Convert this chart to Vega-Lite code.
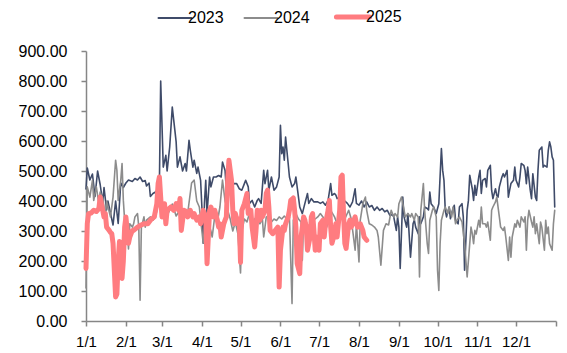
{
"$schema": "https://vega.github.io/schema/vega-lite/v6.json",
"width": 470, "height": 270,
"autosize": "none",
"padding": {"left": 86, "top": 51, "right": 11, "bottom": 32},
"background": "white",
"config": {"view": {"stroke": null}, "font": "Liberation Sans"},
"data": {"values": [
{"date":"2023-01-01","series":"2023","value":440},{"date":"2023-01-02","series":"2023","value":510},{"date":"2023-01-04","series":"2023","value":470},{"date":"2023-01-06","series":"2023","value":490},{"date":"2023-01-08","series":"2023","value":415},{"date":"2023-01-10","series":"2023","value":500},{"date":"2023-01-12","series":"2023","value":455},{"date":"2023-01-14","series":"2023","value":395},{"date":"2023-01-15","series":"2023","value":445},{"date":"2023-01-17","series":"2023","value":370},{"date":"2023-01-18","series":"2023","value":400},{"date":"2023-01-20","series":"2023","value":360},{"date":"2023-01-22","series":"2023","value":320},{"date":"2023-01-24","series":"2023","value":400},{"date":"2023-01-26","series":"2023","value":325},{"date":"2023-01-28","series":"2023","value":460},{"date":"2023-01-30","series":"2023","value":445},
{"date":"2023-02-01","series":"2023","value":460},{"date":"2023-02-03","series":"2023","value":470},{"date":"2023-02-06","series":"2023","value":465},{"date":"2023-02-08","series":"2023","value":475},{"date":"2023-02-10","series":"2023","value":470},{"date":"2023-02-12","series":"2023","value":480},{"date":"2023-02-14","series":"2023","value":465},{"date":"2023-02-16","series":"2023","value":468},{"date":"2023-02-17","series":"2023","value":450},{"date":"2023-02-19","series":"2023","value":460},{"date":"2023-02-20","series":"2023","value":415},{"date":"2023-02-22","series":"2023","value":425},{"date":"2023-02-24","series":"2023","value":430},{"date":"2023-02-26","series":"2023","value":440},{"date":"2023-02-27","series":"2023","value":455},{"date":"2023-02-28","series":"2023","value":800},
{"date":"2023-03-02","series":"2023","value":513},{"date":"2023-03-04","series":"2023","value":552},{"date":"2023-03-05","series":"2023","value":500},{"date":"2023-03-07","series":"2023","value":580},{"date":"2023-03-09","series":"2023","value":713},{"date":"2023-03-11","series":"2023","value":636},{"date":"2023-03-12","series":"2023","value":597},{"date":"2023-03-13","series":"2023","value":513},{"date":"2023-03-15","series":"2023","value":547},{"date":"2023-03-17","series":"2023","value":500},{"date":"2023-03-19","series":"2023","value":525},{"date":"2023-03-20","series":"2023","value":500},{"date":"2023-03-22","series":"2023","value":602},{"date":"2023-03-23","series":"2023","value":569},{"date":"2023-03-25","series":"2023","value":513},{"date":"2023-03-26","series":"2023","value":536},{"date":"2023-03-28","series":"2023","value":492},{"date":"2023-03-29","series":"2023","value":513},{"date":"2023-03-31","series":"2023","value":469},
{"date":"2023-04-01","series":"2023","value":380},{"date":"2023-04-02","series":"2023","value":259},{"date":"2023-04-03","series":"2023","value":393},{"date":"2023-04-04","series":"2023","value":469},{"date":"2023-04-05","series":"2023","value":358},{"date":"2023-04-07","series":"2023","value":480},{"date":"2023-04-08","series":"2023","value":447},{"date":"2023-04-10","series":"2023","value":480},{"date":"2023-04-12","series":"2023","value":480},{"date":"2023-04-14","series":"2023","value":485},{"date":"2023-04-16","series":"2023","value":480},{"date":"2023-04-17","series":"2023","value":530},{"date":"2023-04-19","series":"2023","value":502},{"date":"2023-04-20","series":"2023","value":436},{"date":"2023-04-21","series":"2023","value":469},{"date":"2023-04-24","series":"2023","value":447},{"date":"2023-04-26","series":"2023","value":458},{"date":"2023-04-28","series":"2023","value":458},{"date":"2023-04-30","series":"2023","value":441},
{"date":"2023-05-02","series":"2023","value":436},{"date":"2023-05-04","series":"2023","value":458},{"date":"2023-05-05","series":"2023","value":469},{"date":"2023-05-07","series":"2023","value":447},{"date":"2023-05-08","series":"2023","value":392},{"date":"2023-05-10","series":"2023","value":402},{"date":"2023-05-12","series":"2023","value":380},{"date":"2023-05-14","series":"2023","value":402},{"date":"2023-05-15","series":"2023","value":408},{"date":"2023-05-17","series":"2023","value":392},{"date":"2023-05-19","series":"2023","value":502},{"date":"2023-05-20","series":"2023","value":458},{"date":"2023-05-22","series":"2023","value":502},{"date":"2023-05-23","series":"2023","value":436},{"date":"2023-05-25","series":"2023","value":480},{"date":"2023-05-27","series":"2023","value":436},{"date":"2023-05-29","series":"2023","value":447},{"date":"2023-05-31","series":"2023","value":480},
{"date":"2023-06-01","series":"2023","value":652},{"date":"2023-06-02","series":"2023","value":558},{"date":"2023-06-03","series":"2023","value":580},{"date":"2023-06-04","series":"2023","value":536},{"date":"2023-06-05","series":"2023","value":613},{"date":"2023-06-07","series":"2023","value":525},{"date":"2023-06-08","series":"2023","value":480},{"date":"2023-06-10","series":"2023","value":447},{"date":"2023-06-12","series":"2023","value":458},{"date":"2023-06-13","series":"2023","value":480},{"date":"2023-06-15","series":"2023","value":413},{"date":"2023-06-16","series":"2023","value":380},{"date":"2023-06-18","series":"2023","value":358},{"date":"2023-06-20","series":"2023","value":392},{"date":"2023-06-22","series":"2023","value":425},{"date":"2023-06-23","series":"2023","value":392},{"date":"2023-06-25","series":"2023","value":408},{"date":"2023-06-27","series":"2023","value":397},{"date":"2023-06-30","series":"2023","value":397},
{"date":"2023-07-02","series":"2023","value":392},{"date":"2023-07-04","series":"2023","value":397},{"date":"2023-07-06","series":"2023","value":386},{"date":"2023-07-08","series":"2023","value":402},{"date":"2023-07-10","series":"2023","value":458},{"date":"2023-07-11","series":"2023","value":419},{"date":"2023-07-13","series":"2023","value":425},{"date":"2023-07-14","series":"2023","value":420},{"date":"2023-07-15","series":"2023","value":408},{"date":"2023-07-17","series":"2023","value":413},{"date":"2023-07-18","series":"2023","value":397},{"date":"2023-07-21","series":"2023","value":400},{"date":"2023-07-23","series":"2023","value":392},{"date":"2023-07-25","series":"2023","value":380},{"date":"2023-07-27","series":"2023","value":397},{"date":"2023-07-29","series":"2023","value":441},{"date":"2023-07-30","series":"2023","value":392},
{"date":"2023-08-01","series":"2023","value":386},{"date":"2023-08-03","series":"2023","value":400},{"date":"2023-08-05","series":"2023","value":380},{"date":"2023-08-07","series":"2023","value":397},{"date":"2023-08-09","series":"2023","value":380},{"date":"2023-08-11","series":"2023","value":385},{"date":"2023-08-13","series":"2023","value":369},{"date":"2023-08-15","series":"2023","value":380},{"date":"2023-08-17","series":"2023","value":369},{"date":"2023-08-19","series":"2023","value":375},{"date":"2023-08-21","series":"2023","value":364},{"date":"2023-08-23","series":"2023","value":369},{"date":"2023-08-25","series":"2023","value":352},{"date":"2023-08-27","series":"2023","value":355},{"date":"2023-08-28","series":"2023","value":347},{"date":"2023-08-30","series":"2023","value":302},{"date":"2023-08-31","series":"2023","value":347},
{"date":"2023-09-01","series":"2023","value":313},{"date":"2023-09-02","series":"2023","value":175},{"date":"2023-09-04","series":"2023","value":413},{"date":"2023-09-05","series":"2023","value":347},{"date":"2023-09-07","series":"2023","value":313},{"date":"2023-09-08","series":"2023","value":358},{"date":"2023-09-10","series":"2023","value":213},{"date":"2023-09-12","series":"2023","value":324},{"date":"2023-09-13","series":"2023","value":336},{"date":"2023-09-14","series":"2023","value":313},{"date":"2023-09-16","series":"2023","value":291},{"date":"2023-09-17","series":"2023","value":347},{"date":"2023-09-18","series":"2023","value":324},{"date":"2023-09-20","series":"2023","value":347},{"date":"2023-09-21","series":"2023","value":380},{"date":"2023-09-23","series":"2023","value":375},{"date":"2023-09-24","series":"2023","value":370},{"date":"2023-09-25","series":"2023","value":430},{"date":"2023-09-26","series":"2023","value":391},{"date":"2023-09-28","series":"2023","value":380},{"date":"2023-09-30","series":"2023","value":358},
{"date":"2023-10-01","series":"2023","value":375},{"date":"2023-10-02","series":"2023","value":391},{"date":"2023-10-04","series":"2023","value":575},{"date":"2023-10-05","series":"2023","value":502},{"date":"2023-10-06","series":"2023","value":469},{"date":"2023-10-07","series":"2023","value":369},{"date":"2023-10-08","series":"2023","value":347},{"date":"2023-10-10","series":"2023","value":380},{"date":"2023-10-11","series":"2023","value":341},{"date":"2023-10-12","series":"2023","value":360},{"date":"2023-10-14","series":"2023","value":386},{"date":"2023-10-15","series":"2023","value":336},{"date":"2023-10-17","series":"2023","value":324},{"date":"2023-10-18","series":"2023","value":380},{"date":"2023-10-20","series":"2023","value":391},{"date":"2023-10-21","series":"2023","value":347},{"date":"2023-10-22","series":"2023","value":169},{"date":"2023-10-24","series":"2023","value":369},{"date":"2023-10-25","series":"2023","value":402},{"date":"2023-10-26","series":"2023","value":486},{"date":"2023-10-28","series":"2023","value":440},{"date":"2023-10-29","series":"2023","value":402},{"date":"2023-10-30","series":"2023","value":452},{"date":"2023-10-31","series":"2023","value":419},
{"date":"2023-11-02","series":"2023","value":480},{"date":"2023-11-03","series":"2023","value":502},{"date":"2023-11-04","series":"2023","value":425},{"date":"2023-11-05","series":"2023","value":469},{"date":"2023-11-07","series":"2023","value":475},{"date":"2023-11-08","series":"2023","value":447},{"date":"2023-11-09","series":"2023","value":502},{"date":"2023-11-11","series":"2023","value":519},{"date":"2023-11-12","series":"2023","value":436},{"date":"2023-11-13","series":"2023","value":408},{"date":"2023-11-15","series":"2023","value":441},{"date":"2023-11-16","series":"2023","value":419},{"date":"2023-11-17","series":"2023","value":413},{"date":"2023-11-18","series":"2023","value":447},{"date":"2023-11-20","series":"2023","value":480},{"date":"2023-11-21","series":"2023","value":491},{"date":"2023-11-22","series":"2023","value":480},{"date":"2023-11-24","series":"2023","value":502},{"date":"2023-11-25","series":"2023","value":413},{"date":"2023-11-26","series":"2023","value":436},{"date":"2023-11-27","series":"2023","value":458},{"date":"2023-11-29","series":"2023","value":469},{"date":"2023-11-30","series":"2023","value":513},
{"date":"2023-12-01","series":"2023","value":469},{"date":"2023-12-03","series":"2023","value":447},{"date":"2023-12-04","series":"2023","value":480},{"date":"2023-12-05","series":"2023","value":525},{"date":"2023-12-07","series":"2023","value":519},{"date":"2023-12-08","series":"2023","value":502},{"date":"2023-12-09","series":"2023","value":458},{"date":"2023-12-10","series":"2023","value":513},{"date":"2023-12-12","series":"2023","value":436},{"date":"2023-12-13","series":"2023","value":408},{"date":"2023-12-14","series":"2023","value":491},{"date":"2023-12-16","series":"2023","value":413},{"date":"2023-12-17","series":"2023","value":402},{"date":"2023-12-18","series":"2023","value":502},{"date":"2023-12-19","series":"2023","value":569},{"date":"2023-12-21","series":"2023","value":580},{"date":"2023-12-22","series":"2023","value":513},{"date":"2023-12-23","series":"2023","value":519},{"date":"2023-12-25","series":"2023","value":513},{"date":"2023-12-26","series":"2023","value":569},{"date":"2023-12-27","series":"2023","value":597},{"date":"2023-12-28","series":"2023","value":580},{"date":"2023-12-29","series":"2023","value":547},{"date":"2023-12-30","series":"2023","value":536},{"date":"2023-12-31","series":"2023","value":380},

{"date":"2023-01-01","series":"2024","value":110},{"date":"2023-01-02","series":"2024","value":447},{"date":"2023-01-04","series":"2024","value":413},{"date":"2023-01-06","series":"2024","value":469},{"date":"2023-01-07","series":"2024","value":402},{"date":"2023-01-09","series":"2024","value":447},{"date":"2023-01-11","series":"2024","value":391},{"date":"2023-01-12","series":"2024","value":430},{"date":"2023-01-14","series":"2024","value":410},{"date":"2023-01-16","series":"2024","value":347},{"date":"2023-01-17","series":"2024","value":400},{"date":"2023-01-20","series":"2024","value":347},{"date":"2023-01-22","series":"2024","value":413},{"date":"2023-01-24","series":"2024","value":536},{"date":"2023-01-25","series":"2024","value":502},{"date":"2023-01-26","series":"2024","value":402},{"date":"2023-01-28","series":"2024","value":469},{"date":"2023-01-29","series":"2024","value":525},{"date":"2023-01-30","series":"2024","value":402},{"date":"2023-01-31","series":"2024","value":336},
{"date":"2023-02-02","series":"2024","value":313},{"date":"2023-02-03","series":"2024","value":240},{"date":"2023-02-04","series":"2024","value":324},{"date":"2023-02-06","series":"2024","value":313},{"date":"2023-02-07","series":"2024","value":324},{"date":"2023-02-08","series":"2024","value":347},{"date":"2023-02-10","series":"2024","value":358},{"date":"2023-02-11","series":"2024","value":313},{"date":"2023-02-12","series":"2024","value":69},{"date":"2023-02-13","series":"2024","value":313},{"date":"2023-02-15","series":"2024","value":347},{"date":"2023-02-16","series":"2024","value":313},{"date":"2023-02-17","series":"2024","value":336},{"date":"2023-02-20","series":"2024","value":347},{"date":"2023-02-22","series":"2024","value":336},{"date":"2023-02-24","series":"2024","value":347},{"date":"2023-02-26","series":"2024","value":391},{"date":"2023-02-27","series":"2024","value":402},{"date":"2023-02-28","series":"2024","value":380},
{"date":"2023-03-03","series":"2024","value":370},{"date":"2023-03-06","series":"2024","value":360},{"date":"2023-03-09","series":"2024","value":390},{"date":"2023-03-12","series":"2024","value":350},{"date":"2023-03-15","series":"2024","value":370},{"date":"2023-03-18","series":"2024","value":345},{"date":"2023-03-21","series":"2024","value":360},{"date":"2023-03-24","series":"2024","value":460},{"date":"2023-03-26","series":"2024","value":470},{"date":"2023-03-28","series":"2024","value":400},{"date":"2023-03-30","series":"2024","value":380},
{"date":"2023-04-01","series":"2024","value":300},{"date":"2023-04-02","series":"2024","value":260},{"date":"2023-04-04","series":"2024","value":360},{"date":"2023-04-06","series":"2024","value":330},{"date":"2023-04-08","series":"2024","value":300},{"date":"2023-04-09","series":"2024","value":280},{"date":"2023-04-11","series":"2024","value":350},{"date":"2023-04-13","series":"2024","value":330},{"date":"2023-04-15","series":"2024","value":380},{"date":"2023-04-17","series":"2024","value":470},{"date":"2023-04-19","series":"2024","value":400},{"date":"2023-04-21","series":"2024","value":370},{"date":"2023-04-23","series":"2024","value":340},{"date":"2023-04-25","series":"2024","value":300},{"date":"2023-04-27","series":"2024","value":330},{"date":"2023-04-29","series":"2024","value":290},
{"date":"2023-05-01","series":"2024","value":160},{"date":"2023-05-02","series":"2024","value":300},{"date":"2023-05-04","series":"2024","value":340},{"date":"2023-05-06","series":"2024","value":330},{"date":"2023-05-08","series":"2024","value":360},{"date":"2023-05-10","series":"2024","value":320},{"date":"2023-05-12","series":"2024","value":340},{"date":"2023-05-14","series":"2024","value":350},{"date":"2023-05-16","series":"2024","value":324},{"date":"2023-05-18","series":"2024","value":340},{"date":"2023-05-19","series":"2024","value":280},{"date":"2023-05-21","series":"2024","value":347},{"date":"2023-05-23","series":"2024","value":350},{"date":"2023-05-25","series":"2024","value":330},{"date":"2023-05-27","series":"2024","value":340},{"date":"2023-05-29","series":"2024","value":335},{"date":"2023-05-31","series":"2024","value":347},
{"date":"2023-06-02","series":"2024","value":340},{"date":"2023-06-04","series":"2024","value":350},{"date":"2023-06-06","series":"2024","value":340},{"date":"2023-06-08","series":"2024","value":347},{"date":"2023-06-10","series":"2024","value":58},{"date":"2023-06-11","series":"2024","value":336},{"date":"2023-06-13","series":"2024","value":358},{"date":"2023-06-15","series":"2024","value":340},{"date":"2023-06-17","series":"2024","value":330},{"date":"2023-06-18","series":"2024","value":202},{"date":"2023-06-19","series":"2024","value":347},{"date":"2023-06-21","series":"2024","value":330},{"date":"2023-06-23","series":"2024","value":313},{"date":"2023-06-25","series":"2024","value":336},{"date":"2023-06-28","series":"2024","value":340},{"date":"2023-06-30","series":"2024","value":347},
{"date":"2023-07-02","series":"2024","value":358},{"date":"2023-07-04","series":"2024","value":347},{"date":"2023-07-07","series":"2024","value":313},{"date":"2023-07-10","series":"2024","value":369},{"date":"2023-07-13","series":"2024","value":347},{"date":"2023-07-15","series":"2024","value":324},{"date":"2023-07-19","series":"2024","value":358},{"date":"2023-07-21","series":"2024","value":340},{"date":"2023-07-24","series":"2024","value":369},{"date":"2023-07-26","series":"2024","value":340},{"date":"2023-07-29","series":"2024","value":236},{"date":"2023-07-30","series":"2024","value":324},
{"date":"2023-08-01","series":"2024","value":197},{"date":"2023-08-02","series":"2024","value":336},{"date":"2023-08-04","series":"2024","value":391},{"date":"2023-08-06","series":"2024","value":413},{"date":"2023-08-07","series":"2024","value":369},{"date":"2023-08-09","series":"2024","value":324},{"date":"2023-08-11","series":"2024","value":320},{"date":"2023-08-13","series":"2024","value":313},{"date":"2023-08-15","series":"2024","value":302},{"date":"2023-08-16","series":"2024","value":280},{"date":"2023-08-18","series":"2024","value":186},{"date":"2023-08-20","series":"2024","value":302},{"date":"2023-08-22","series":"2024","value":324},{"date":"2023-08-24","series":"2024","value":320},{"date":"2023-08-26","series":"2024","value":369},{"date":"2023-08-28","series":"2024","value":347},{"date":"2023-08-29","series":"2024","value":358},{"date":"2023-08-31","series":"2024","value":347},
{"date":"2023-09-01","series":"2024","value":391},{"date":"2023-09-03","series":"2024","value":413},{"date":"2023-09-04","series":"2024","value":391},{"date":"2023-09-06","series":"2024","value":347},{"date":"2023-09-08","series":"2024","value":358},{"date":"2023-09-10","series":"2024","value":347},{"date":"2023-09-11","series":"2024","value":358},{"date":"2023-09-13","series":"2024","value":336},{"date":"2023-09-14","series":"2024","value":358},{"date":"2023-09-16","series":"2024","value":347},{"date":"2023-09-17","series":"2024","value":147},{"date":"2023-09-18","series":"2024","value":369},{"date":"2023-09-20","series":"2024","value":458},{"date":"2023-09-21","series":"2024","value":369},{"date":"2023-09-23","series":"2024","value":258},{"date":"2023-09-24","series":"2024","value":225},{"date":"2023-09-25","series":"2024","value":336},{"date":"2023-09-27","series":"2024","value":369},{"date":"2023-09-28","series":"2024","value":380},{"date":"2023-09-30","series":"2024","value":347},
{"date":"2023-10-01","series":"2024","value":169},{"date":"2023-10-02","series":"2024","value":102},{"date":"2023-10-03","series":"2024","value":258},{"date":"2023-10-04","series":"2024","value":336},{"date":"2023-10-06","series":"2024","value":369},{"date":"2023-10-07","series":"2024","value":380},{"date":"2023-10-09","series":"2024","value":358},{"date":"2023-10-10","series":"2024","value":380},{"date":"2023-10-12","series":"2024","value":347},{"date":"2023-10-13","series":"2024","value":380},{"date":"2023-10-15","series":"2024","value":324},{"date":"2023-10-16","series":"2024","value":336},{"date":"2023-10-18","series":"2024","value":347},{"date":"2023-10-20","series":"2024","value":330},{"date":"2023-10-22","series":"2024","value":258},{"date":"2023-10-24","series":"2024","value":147},{"date":"2023-10-26","series":"2024","value":258},{"date":"2023-10-27","series":"2024","value":313},{"date":"2023-10-28","series":"2024","value":291},{"date":"2023-10-29","series":"2024","value":258},{"date":"2023-10-30","series":"2024","value":302},{"date":"2023-10-31","series":"2024","value":290},
{"date":"2023-11-02","series":"2024","value":336},{"date":"2023-11-03","series":"2024","value":313},{"date":"2023-11-04","series":"2024","value":380},{"date":"2023-11-05","series":"2024","value":324},{"date":"2023-11-07","series":"2024","value":324},{"date":"2023-11-08","series":"2024","value":313},{"date":"2023-11-09","series":"2024","value":330},{"date":"2023-11-11","series":"2024","value":269},{"date":"2023-11-12","series":"2024","value":369},{"date":"2023-11-13","series":"2024","value":380},{"date":"2023-11-15","series":"2024","value":397},{"date":"2023-11-16","series":"2024","value":413},{"date":"2023-11-18","series":"2024","value":347},{"date":"2023-11-19","series":"2024","value":313},{"date":"2023-11-21","series":"2024","value":302},{"date":"2023-11-22","series":"2024","value":313},{"date":"2023-11-23","series":"2024","value":280},{"date":"2023-11-25","series":"2024","value":202},{"date":"2023-11-26","series":"2024","value":280},{"date":"2023-11-27","series":"2024","value":213},{"date":"2023-11-28","series":"2024","value":280},{"date":"2023-11-30","series":"2024","value":324},
{"date":"2023-12-01","series":"2024","value":313},{"date":"2023-12-02","series":"2024","value":336},{"date":"2023-12-04","series":"2024","value":313},{"date":"2023-12-05","series":"2024","value":347},{"date":"2023-12-07","series":"2024","value":330},{"date":"2023-12-08","series":"2024","value":347},{"date":"2023-12-09","series":"2024","value":236},{"date":"2023-12-10","series":"2024","value":336},{"date":"2023-12-11","series":"2024","value":369},{"date":"2023-12-13","series":"2024","value":330},{"date":"2023-12-14","series":"2024","value":313},{"date":"2023-12-15","series":"2024","value":347},{"date":"2023-12-16","series":"2024","value":291},{"date":"2023-12-17","series":"2024","value":324},{"date":"2023-12-19","series":"2024","value":258},{"date":"2023-12-20","series":"2024","value":330},{"date":"2023-12-21","series":"2024","value":313},{"date":"2023-12-23","series":"2024","value":236},{"date":"2023-12-24","series":"2024","value":336},{"date":"2023-12-25","series":"2024","value":291},{"date":"2023-12-26","series":"2024","value":313},{"date":"2023-12-27","series":"2024","value":258},{"date":"2023-12-29","series":"2024","value":236},{"date":"2023-12-30","series":"2024","value":324},{"date":"2023-12-31","series":"2024","value":369},

{"date":"2023-01-01","series":"2025","value":175},{"date":"2023-01-02","series":"2025","value":325},{"date":"2023-01-03","series":"2025","value":358},{"date":"2023-01-05","series":"2025","value":360},{"date":"2023-01-07","series":"2025","value":369},{"date":"2023-01-09","series":"2025","value":365},{"date":"2023-01-11","series":"2025","value":375},{"date":"2023-01-12","series":"2025","value":413},{"date":"2023-01-13","series":"2025","value":391},{"date":"2023-01-15","series":"2025","value":347},{"date":"2023-01-16","series":"2025","value":358},{"date":"2023-01-17","series":"2025","value":313},{"date":"2023-01-19","series":"2025","value":302},{"date":"2023-01-20","series":"2025","value":295},{"date":"2023-01-21","series":"2025","value":291},{"date":"2023-01-22","series":"2025","value":259},{"date":"2023-01-23","series":"2025","value":169},{"date":"2023-01-24","series":"2025","value":80},{"date":"2023-01-25","series":"2025","value":90},{"date":"2023-01-26","series":"2025","value":200},{"date":"2023-01-27","series":"2025","value":265},{"date":"2023-01-28","series":"2025","value":200},{"date":"2023-01-29","series":"2025","value":142},{"date":"2023-01-30","series":"2025","value":200},{"date":"2023-01-31","series":"2025","value":313},
{"date":"2023-02-01","series":"2025","value":347},{"date":"2023-02-02","series":"2025","value":302},{"date":"2023-02-03","series":"2025","value":259},{"date":"2023-02-04","series":"2025","value":280},{"date":"2023-02-06","series":"2025","value":302},{"date":"2023-02-07","series":"2025","value":302},{"date":"2023-02-10","series":"2025","value":313},{"date":"2023-02-12","series":"2025","value":318},{"date":"2023-02-15","series":"2025","value":324},{"date":"2023-02-18","series":"2025","value":324},{"date":"2023-02-20","series":"2025","value":336},{"date":"2023-02-23","series":"2025","value":347},{"date":"2023-02-25","series":"2025","value":391},{"date":"2023-02-26","series":"2025","value":458},{"date":"2023-02-27","series":"2025","value":480},{"date":"2023-02-28","series":"2025","value":413},
{"date":"2023-03-01","series":"2025","value":347},{"date":"2023-03-03","series":"2025","value":391},{"date":"2023-03-04","series":"2025","value":324},{"date":"2023-03-05","series":"2025","value":369},{"date":"2023-03-08","series":"2025","value":380},{"date":"2023-03-10","series":"2025","value":369},{"date":"2023-03-12","series":"2025","value":391},{"date":"2023-03-14","series":"2025","value":369},{"date":"2023-03-15","series":"2025","value":408},{"date":"2023-03-16","series":"2025","value":302},{"date":"2023-03-18","series":"2025","value":369},{"date":"2023-03-20","series":"2025","value":365},{"date":"2023-03-21","series":"2025","value":347},{"date":"2023-03-23","series":"2025","value":369},{"date":"2023-03-25","series":"2025","value":347},{"date":"2023-03-26","series":"2025","value":358},{"date":"2023-03-28","series":"2025","value":336},{"date":"2023-03-30","series":"2025","value":347},{"date":"2023-03-31","series":"2025","value":324},
{"date":"2023-04-02","series":"2025","value":369},{"date":"2023-04-04","series":"2025","value":347},{"date":"2023-04-05","series":"2025","value":191},{"date":"2023-04-07","series":"2025","value":369},{"date":"2023-04-08","series":"2025","value":380},{"date":"2023-04-10","series":"2025","value":347},{"date":"2023-04-11","series":"2025","value":369},{"date":"2023-04-13","series":"2025","value":336},{"date":"2023-04-14","series":"2025","value":313},{"date":"2023-04-15","series":"2025","value":324},{"date":"2023-04-16","series":"2025","value":280},{"date":"2023-04-18","series":"2025","value":324},{"date":"2023-04-19","series":"2025","value":336},{"date":"2023-04-20","series":"2025","value":347},{"date":"2023-04-21","series":"2025","value":469},{"date":"2023-04-22","series":"2025","value":536},{"date":"2023-04-24","series":"2025","value":469},{"date":"2023-04-25","series":"2025","value":369},{"date":"2023-04-26","series":"2025","value":324},{"date":"2023-04-27","series":"2025","value":358},{"date":"2023-04-29","series":"2025","value":324},{"date":"2023-04-30","series":"2025","value":340},
{"date":"2023-05-01","series":"2025","value":195},{"date":"2023-05-02","series":"2025","value":369},{"date":"2023-05-04","series":"2025","value":391},{"date":"2023-05-06","series":"2025","value":425},{"date":"2023-05-07","series":"2025","value":358},{"date":"2023-05-09","series":"2025","value":369},{"date":"2023-05-10","series":"2025","value":313},{"date":"2023-05-12","series":"2025","value":247},{"date":"2023-05-13","series":"2025","value":300},{"date":"2023-05-14","series":"2025","value":369},{"date":"2023-05-16","series":"2025","value":336},{"date":"2023-05-17","series":"2025","value":369},{"date":"2023-05-18","series":"2025","value":347},{"date":"2023-05-20","series":"2025","value":369},{"date":"2023-05-21","series":"2025","value":425},{"date":"2023-05-22","series":"2025","value":436},{"date":"2023-05-23","series":"2025","value":380},{"date":"2023-05-24","series":"2025","value":302},{"date":"2023-05-26","series":"2025","value":291},{"date":"2023-05-28","series":"2025","value":302},{"date":"2023-05-30","series":"2025","value":313},{"date":"2023-05-31","series":"2025","value":113},
{"date":"2023-06-01","series":"2025","value":236},{"date":"2023-06-03","series":"2025","value":313},{"date":"2023-06-04","series":"2025","value":302},{"date":"2023-06-05","series":"2025","value":324},{"date":"2023-06-07","series":"2025","value":347},{"date":"2023-06-08","series":"2025","value":369},{"date":"2023-06-09","series":"2025","value":402},{"date":"2023-06-11","series":"2025","value":410},{"date":"2023-06-12","series":"2025","value":369},{"date":"2023-06-13","series":"2025","value":313},{"date":"2023-06-14","series":"2025","value":191},{"date":"2023-06-16","series":"2025","value":158},{"date":"2023-06-17","series":"2025","value":280},{"date":"2023-06-19","series":"2025","value":347},{"date":"2023-06-20","series":"2025","value":336},{"date":"2023-06-21","series":"2025","value":313},{"date":"2023-06-22","series":"2025","value":236},{"date":"2023-06-24","series":"2025","value":280},{"date":"2023-06-25","series":"2025","value":347},{"date":"2023-06-26","series":"2025","value":358},{"date":"2023-06-27","series":"2025","value":302},{"date":"2023-06-28","series":"2025","value":236},{"date":"2023-06-30","series":"2025","value":280},
{"date":"2023-07-01","series":"2025","value":236},{"date":"2023-07-02","series":"2025","value":324},{"date":"2023-07-04","series":"2025","value":336},{"date":"2023-07-05","series":"2025","value":280},{"date":"2023-07-06","series":"2025","value":324},{"date":"2023-07-08","series":"2025","value":369},{"date":"2023-07-09","series":"2025","value":402},{"date":"2023-07-10","series":"2025","value":313},{"date":"2023-07-11","series":"2025","value":259},{"date":"2023-07-13","series":"2025","value":291},{"date":"2023-07-14","series":"2025","value":324},{"date":"2023-07-15","series":"2025","value":280},{"date":"2023-07-17","series":"2025","value":369},{"date":"2023-07-18","series":"2025","value":480},{"date":"2023-07-19","series":"2025","value":486},{"date":"2023-07-20","series":"2025","value":358},{"date":"2023-07-21","series":"2025","value":259},{"date":"2023-07-22","series":"2025","value":242},{"date":"2023-07-24","series":"2025","value":324},{"date":"2023-07-25","series":"2025","value":336},{"date":"2023-07-26","series":"2025","value":313},{"date":"2023-07-27","series":"2025","value":324},{"date":"2023-07-29","series":"2025","value":347},{"date":"2023-07-30","series":"2025","value":324},{"date":"2023-07-31","series":"2025","value":313},
{"date":"2023-08-02","series":"2025","value":324},{"date":"2023-08-03","series":"2025","value":313},{"date":"2023-08-04","series":"2025","value":302},{"date":"2023-08-05","series":"2025","value":280},{"date":"2023-08-07","series":"2025","value":269}
]},
"mark": {"type": "line", "strokeJoin": "round", "strokeCap": "round"},
"encoding": {
"x": {"field": "date", "type": "temporal",
 "scale": {"type": "utc", "domain": [{"year": 2023, "month": 1, "date": 1, "utc": true}, {"year": 2024, "month": 1, "date": 1, "utc": true}]},
 "axis": {"title": null, "grid": false,
  "values": [{"year":2023,"month":1,"date":1,"utc":true},{"year":2023,"month":2,"date":1,"utc":true},{"year":2023,"month":3,"date":1,"utc":true},{"year":2023,"month":4,"date":1,"utc":true},{"year":2023,"month":5,"date":1,"utc":true},{"year":2023,"month":6,"date":1,"utc":true},{"year":2023,"month":7,"date":1,"utc":true},{"year":2023,"month":8,"date":1,"utc":true},{"year":2023,"month":9,"date":1,"utc":true},{"year":2023,"month":10,"date":1,"utc":true},{"year":2023,"month":11,"date":1,"utc":true},{"year":2023,"month":12,"date":1,"utc":true},{"year":2024,"month":1,"date":1,"utc":true}],
  "labelExpr": "datum.value >= utc(2023, 11, 31) ? '' : utcFormat(datum.value, '%-m/%-d')",
  "labelOverlap": false, "labelFlush": false,
  "domainColor": "#868686", "domainWidth": 1.5, "tickColor": "#868686", "tickWidth": 1.5, "tickSize": 5,
  "labelFont": "Liberation Sans", "labelFontSize": 15, "labelColor": "#000000", "labelPadding": 8}},
"y": {"field": "value", "type": "quantitative",
 "scale": {"domain": [0, 900], "nice": false},
 "axis": {"title": null, "grid": false, "values": [0,100,200,300,400,500,600,700,800,900], "format": ".2f",
  "domainColor": "#868686", "domainWidth": 1.5, "tickColor": "#868686", "tickWidth": 1.5, "tickSize": 5,
  "labelFont": "Liberation Sans", "labelFontSize": 16, "labelColor": "#000000", "labelPadding": 14}},
"color": {"field": "series", "type": "nominal",
 "scale": {"domain": ["2023","2024","2025"], "range": ["#3F4B69","#8C8C8C","#FF7C80"]},
 "legend": {"title": null, "orient": "none", "legendX": 81, "legendY": -42, "direction": "horizontal",
  "symbolType": "stroke", "symbolSize": 1100, "labelFont": "Liberation Sans", "labelFontSize": 16, "labelColor": "#000000",
  "labelOffset": 5, "columnPadding": 16,
  "encode": {"symbols": {"update": {"strokeWidth": {"signal": "datum.value === '2025' ? 5 : 1.8"}, "strokeCap": {"value": "round"}}}}}},
"strokeWidth": {"condition": {"test": "datum.series === '2025'", "value": 5}, "value": 1.6}
}
}
